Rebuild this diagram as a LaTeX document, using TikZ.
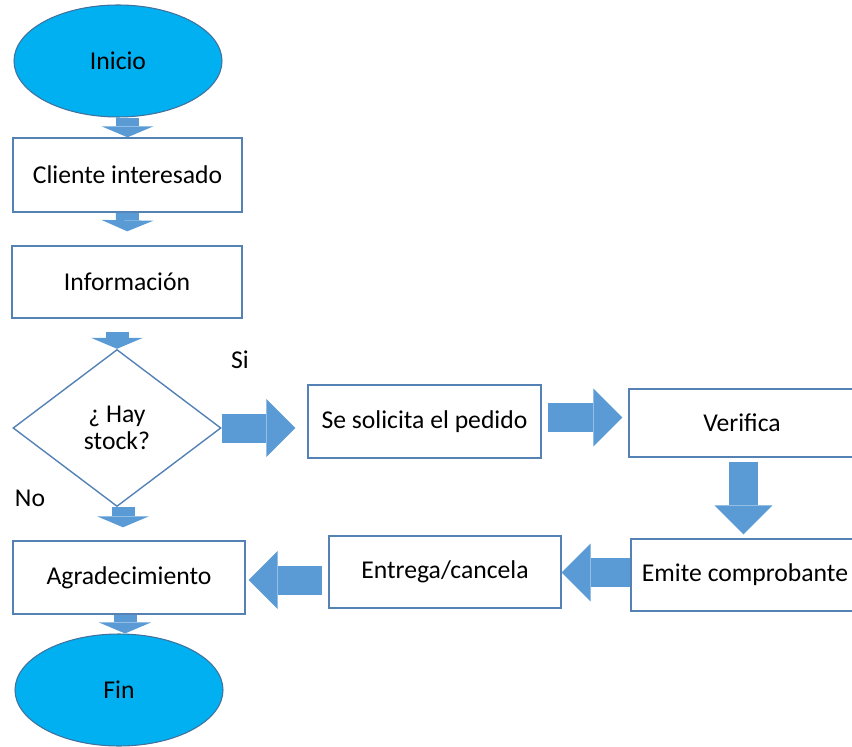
\documentclass[tikz,border=0pt]{standalone}
\usepackage{fontspec}
\setmainfont{Carlito}
\usetikzlibrary{shapes.geometric, arrows.meta, positioning}

\definecolor{ovalfill}{RGB}{0,176,240}
\definecolor{ovalline}{RGB}{65,113,156}
\definecolor{boxline}{RGB}{84,130,180}
\definecolor{arrowfill}{RGB}{91,155,213}

\begin{document}
\begin{tikzpicture}[
    every node/.style={font=\fontsize{14.6}{15.5}\selectfont, text=black},
    oval/.style={ellipse, draw=ovalline, fill=ovalfill, line width=0.6pt, minimum width=4.16cm, minimum height=2.24cm},
    box/.style={rectangle, draw=boxline, line width=0.8pt, fill=white, minimum height=1.46cm, align=center},
    decision/.style={diamond, draw=boxline, line width=0.8pt, minimum width=4.16cm, minimum height=3.14cm, inner sep=0pt, align=center},
    smallarrow/.style={arrowfill, line width=0.46cm, -{Triangle[width=1.04cm, length=0.22cm, line width=0pt]}},
    bigarrow/.style={arrowfill, line width=0.58cm, -{Triangle[width=1.16cm, length=0.58cm, line width=0pt]}}
]
\useasboundingbox (0,0) rectangle (17.04,14.92);
\clip (0,0) rectangle (17.04,14.92);

% Left column
\node[oval] (inicio) at (2.36,13.70) {Inicio};
\node[box, minimum width=4.58cm, minimum height=1.48cm] (cliente) at (2.55,11.42) {Cliente interesado};
\node[box, minimum width=4.60cm, minimum height=1.44cm] (info) at (2.54,9.28) {Información};
\node[decision] (stock) at (2.34,6.36) {¿ Hay\\stock?};
\node[box, minimum width=4.64cm] (agrad) at (2.58,3.37) {Agradecimiento};
\node[oval] (fin) at (2.38,1.12) {Fin};

% Right part
\node[box, minimum width=4.66cm] (solicita) at (8.49,6.49) {Se solicita el pedido};
\node[box, minimum width=4.52cm, minimum height=1.36cm] (verifica) at (14.84,6.46) {Verifica};
\node[box, minimum width=4.56cm, minimum height=1.44cm] (emite) at (14.90,3.42) {Emite comprobante};
\node[box, minimum width=4.64cm, minimum height=1.44cm] (entrega) at (8.90,3.48) {Entrega/cancela};

% Labels
\node (si) at (4.80,7.72) {Si};
\node (no) at (0.60,4.96) {No};

% Arrows
\draw[smallarrow] (inicio.south -| cliente.north) -- (cliente.north);
\draw[smallarrow, shorten >=0.28cm] (cliente.south) -- (info.north);
\draw[smallarrow, shorten <=0.26cm] (info.south -| stock.north) -- (stock.north);
\draw[smallarrow, shorten >=0.26cm] ([xshift=0.12cm]stock.south) -- ([xshift=0.12cm]stock.south |- agrad.north);
\draw[smallarrow] ([xshift=-0.08cm]agrad.south) -- ([xshift=-0.08cm]agrad.south |- fin.north);

\draw[bigarrow, shorten >=0.24cm] (stock.east) -- (stock.east -| solicita.west);
\draw[bigarrow, shorten <=0.12cm, shorten >=0.12cm] ([yshift=0.08cm]solicita.east) -- ([yshift=0.08cm]solicita.east -| verifica.west);
\draw[bigarrow, shorten <=0.08cm, shorten >=0.08cm] ([xshift=0.03cm]verifica.south) -- ([xshift=0.03cm]verifica.south |- emite.north);
\draw[bigarrow] ([yshift=0.05cm]emite.west) -- ([yshift=0.05cm]emite.west -| entrega.east);
\draw[bigarrow, shorten <=0.12cm, shorten >=0.06cm] ([yshift=-0.16cm]entrega.west) -- ([yshift=-0.16cm]entrega.west -| agrad.east);

\end{tikzpicture}
\end{document}
